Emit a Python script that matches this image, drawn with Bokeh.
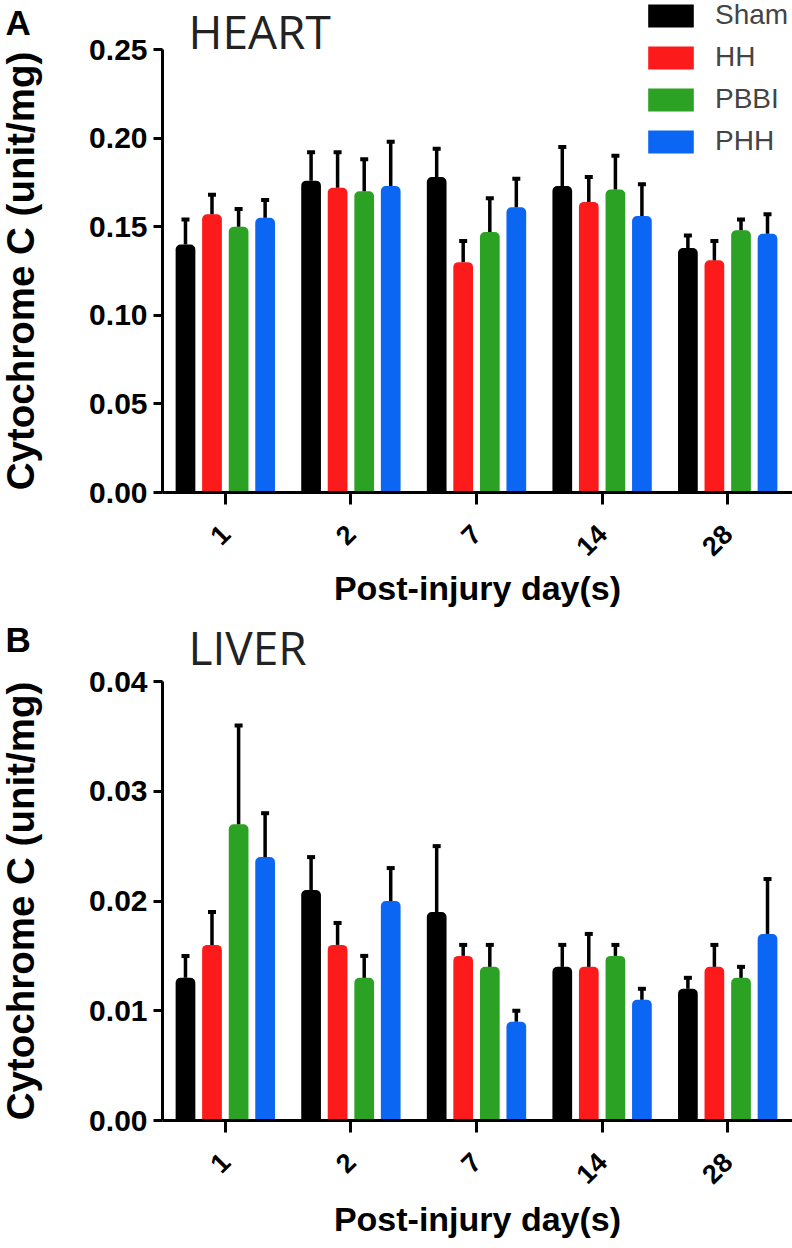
import math
import numpy as np
from bokeh.plotting import figure
from bokeh.models import (ColumnDataSource, FixedTicker, NumeralTickFormatter, Whisker,
                          TeeHead, Label, Legend, LegendItem, Range1d)
from bokeh.layouts import column
from bokeh.embed import file_html
from bokeh.resources import INLINE

# ---------------- data ----------------
days = ["1", "2", "7", "14", "28"]
groups = ["Sham", "HH", "PBBI", "PHH"]
colors = ["#000000", "#fd1a1a", "#2ca224", "#0b66f4"]

heart_sham = [0.140, 0.176, 0.178, 0.173, 0.138]
heart_sham_err = [0.014, 0.016, 0.016, 0.022, 0.007]
heart_hh = [0.157, 0.172, 0.130, 0.164, 0.131]
heart_hh_err = [0.011, 0.020, 0.012, 0.014, 0.011]
heart_pbbi = [0.150, 0.170, 0.147, 0.171, 0.148]
heart_pbbi_err = [0.010, 0.018, 0.019, 0.019, 0.006]
heart_phh = [0.155, 0.173, 0.161, 0.156, 0.146]
heart_phh_err = [0.010, 0.025, 0.016, 0.018, 0.011]

liver_sham = [0.013, 0.021, 0.019, 0.014, 0.012]
liver_sham_err = [0.002, 0.003, 0.006, 0.002, 0.001]
liver_hh = [0.016, 0.016, 0.015, 0.014, 0.014]
liver_hh_err = [0.003, 0.002, 0.001, 0.003, 0.002]
liver_pbbi = [0.027, 0.013, 0.014, 0.015, 0.013]
liver_pbbi_err = [0.009, 0.002, 0.002, 0.001, 0.001]
liver_phh = [0.024, 0.020, 0.009, 0.011, 0.017]
liver_phh_err = [0.004, 0.003, 0.001, 0.001, 0.005]

heart_yticks = [0.0, 0.05, 0.10, 0.15, 0.20, 0.25]
liver_yticks = [0.0, 0.01, 0.02, 0.03, 0.04]

FONT = "Liberation Sans"
W = 792
AX_LEFT = 162          # pixel position of the y axis inside the figure
AX_RIGHT = 790         # pixel position of the right end of the x axis
N = len(days)


def make_panel(title, letter, means, errs, ymax, yticks, height, top_px, zero_px,
               title_dy, letter_dy, xlabel_standoff, with_legend):
    # the frame covers the whole figure; axes are pinned with fixed_location
    px_x = (AX_RIGHT - AX_LEFT) / N
    x0 = 0.5 - AX_LEFT / px_x
    x1 = N + 0.5 + (W - AX_RIGHT) / px_x
    px_y = (zero_px - top_px) / ymax
    y_top = ymax + top_px / px_y
    y_bot = -(height - zero_px) / px_y

    p = figure(width=W, height=height, output_backend="svg", toolbar_location=None,
               x_range=Range1d(x0, x1), y_range=Range1d(y_bot, y_top),
               min_border_left=0, min_border_right=0,
               min_border_top=0, min_border_bottom=0)
    p.grid.visible = False
    p.outline_line_color = None
    p.background_fill_color = "white"

    xs = np.arange(1, N + 1)
    offsets = [-0.317, -0.106, 0.106, 0.317]
    renderers = []
    for g, off, col, m, e in zip(groups, offsets, colors, means, errs):
        src = ColumnDataSource(dict(x=xs + off, top=m,
                                    upper=[a + b for a, b in zip(m, e)]))
        r = p.vbar(x="x", top="top", width=0.157, source=src, fill_color=col,
                   line_color=None, border_radius=(5, 5, 0, 0))
        renderers.append(r)
        w = Whisker(base="x", lower="top", upper="upper", source=src,
                    dimension="height", line_width=3.5, line_color="black",
                    upper_head=TeeHead(size=8, line_width=4, line_color="black"),
                    lower_head=None, level="glyph")
        p.add_layout(w)

    # axes
    for ax in (p.xaxis, p.yaxis):
        ax.axis_line_width = 3
        ax.axis_line_color = "black"
        ax.major_tick_line_width = 3
        ax.major_tick_line_color = "black"
        ax.major_tick_in = 0
        ax.minor_tick_line_color = None
        ax.major_label_text_font = FONT
        ax.major_label_text_font_style = "bold"
        ax.major_label_text_color = "black"
        ax.axis_label_text_font = FONT
        ax.axis_label_text_font_style = "bold"
        ax.axis_label_text_color = "black"

    p.xaxis.fixed_location = 0
    p.xaxis.bounds = (0.5, x1)
    p.xaxis.ticker = FixedTicker(ticks=[int(v) for v in xs])
    p.xaxis.major_label_overrides = {int(v): d for v, d in zip(xs, days)}
    p.xaxis.major_label_orientation = math.pi / 4
    p.xaxis.major_tick_out = 12
    p.xaxis.major_label_text_font_size = "27px"
    p.xaxis.major_label_standoff = 25
    p.xaxis.axis_label = "Post-injury day(s)"
    p.xaxis.axis_label_text_font_size = "34px"
    p.xaxis.axis_label_standoff = xlabel_standoff

    p.yaxis.fixed_location = 0.5
    p.yaxis.bounds = (0, ymax)
    p.yaxis.ticker = FixedTicker(ticks=yticks)
    p.yaxis.formatter = NumeralTickFormatter(format="0.00")
    p.yaxis.major_tick_out = 9
    p.yaxis.major_label_text_font_size = "30px"
    p.yaxis.major_label_standoff = 6
    p.yaxis.axis_label = "Cytochrome C (unit/mg)"
    p.yaxis.axis_label_text_font_size = "38.5px"
    p.yaxis.axis_label_standoff = 44

    p.add_layout(Label(x=0.5, y=ymax, x_offset=26, y_offset=title_dy, text=title,
                       text_font="Open Sans", text_font_size="46px",
                       text_color="#222222", text_baseline="alphabetic"))
    p.add_layout(Label(x=0.5, y=ymax, x_offset=-157, y_offset=letter_dy, text=letter,
                       text_font=FONT, text_font_style="bold", text_font_size="35px",
                       text_color="black", text_baseline="alphabetic"))

    if with_legend:
        items = [LegendItem(label=g, renderers=[r]) for g, r in zip(groups, renderers)]
        legend = Legend(items=items, location=(642, height - 157), orientation="vertical",
                        glyph_width=57, glyph_height=29, label_height=29,
                        spacing=10, padding=0, margin=0, label_standoff=16,
                        label_text_font=FONT, label_text_font_size="28px",
                        label_text_baseline="middle",
                        border_line_color=None, background_fill_alpha=0)
        p.add_layout(legend)
    return p


p1 = make_panel("HEART", "A",
                [heart_sham, heart_hh, heart_pbbi, heart_phh],
                [heart_sham_err, heart_hh_err, heart_pbbi_err, heart_phh_err],
                0.25, heart_yticks, 616, 49, 492, 19, 27, 2, True)
p2 = make_panel("LIVER", "B",
                [liver_sham, liver_hh, liver_pbbi, liver_phh],
                [liver_sham_err, liver_hh_err, liver_pbbi_err, liver_phh_err],
                0.04, liver_yticks, 632, 65, 504, 35, 42, 5, False)

layout = column(p1, p2, spacing=0)
open("out.html", "w").write(file_html(layout, INLINE))
